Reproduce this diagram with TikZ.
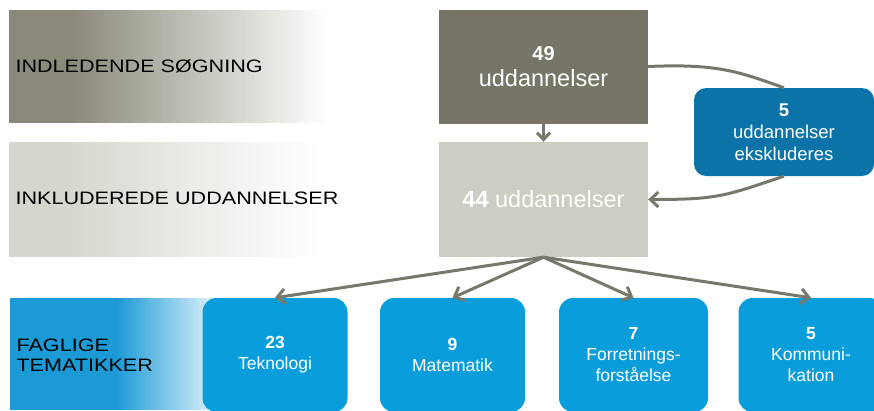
\documentclass[tikz,border=0pt]{standalone}
\usepackage{fontspec}
\setmainfont{Liberation Sans}
\newfontfamily\bandfont{Liberation Sans}[FakeStretch=1.2]
\usetikzlibrary{arrows.meta, positioning}
\definecolor{G0}{RGB}{119,118,102}
\definecolor{G1}{RGB}{138,137,122}
\definecolor{G2}{RGB}{205,205,195}
\definecolor{G3}{RGB}{214,214,206}
\definecolor{B0}{RGB}{ 11,115,168}
\definecolor{B1}{RGB}{ 10,157,219}
\definecolor{B2}{RGB}{ 28,154,214}
\definecolor{B3}{RGB}{205,234,247}
\definecolor{Arr}{RGB}{120,119,107}

\begin{document}
\begin{tikzpicture}[x=1pt, y=-1pt,
    rowlabel/.style={anchor=west, align=left, font=\bandfont\fontsize{18}{20}\selectfont, text=black},
    sumbox/.style={rectangle, minimum width=209pt, minimum height=114pt, align=center, text=white, inner sep=0pt},
    themebox/.style={rectangle, rounded corners=14pt, fill=B1, minimum width=145pt, minimum height=114pt,
        align=center, text=white, inner sep=0pt, font=\fontsize{17.5}{21}\selectfont},
    flow/.style={draw=Arr, line width=3pt, -{Straight Barb[length=8pt, width=15pt]}}]

    \useasboundingbox (0,0) rectangle (874,410);

    %% --- background bands, faded in thin strips ---
    \fill[G1] (9,10) rectangle (71,123);
    \foreach \i [evaluate=\i as \p using {100-1.5625*\i}] in {0,...,64}
        \fill[G1!\p!white] ({70+4*\i},10) rectangle ({74.6+4*\i},123);
    \fill[G3] (9,142) rectangle (61,257);
    \foreach \i [evaluate=\i as \p using {100-1.5625*\i}] in {0,...,64}
        \fill[G3!\p!white] ({60+4*\i},142) rectangle ({64.6+4*\i},257);
    \fill[B2] (10,298) rectangle (116,410);
    \foreach \i [evaluate=\i as \p using {100-3.333*\i}] in {0,...,30}
        \fill[B2!\p!B3] ({115+3*\i},298) rectangle ({118.6+3*\i},410);
    \fill[B3] (205,298) rectangle (222,410);

    %% --- row labels ---
    \node[rowlabel] (lSearch) at (12,66) {INDLEDENDE SØGNING};
    \node[rowlabel] (lIncl) at (12,198) {INKLUDEREDE UDDANNELSER};
    \node[rowlabel] (lTheme) at (13,355) {FAGLIGE\\TEMATIKKER};

    %% --- totals ---
    \node[sumbox, fill=G0, font=\fontsize{23.5}{26}\selectfont] (b49) at (543.5,66.5)
        {{\fontsize{20}{26}\selectfont\textbf{49}}\\uddannelser};
    \node[sumbox, fill=G2, minimum height=115pt, font=\fontsize{23.5}{26}\selectfont] (b44) at (543.5,199.5)
        {\textbf{44} uddannelser};

    %% --- excluded ---
    \node[rectangle, rounded corners=12pt, fill=B0, minimum width=180pt, minimum height=88pt,
        align=center, text=white, inner sep=0pt, font=\fontsize{18.5}{22}\selectfont] (excl) at (784,132)
        {\textbf{5}\\uddannelser\\ekskluderes};

    %% --- themes ---
    \node[themebox] (t23) at (275,355) {\textbf{23}\\Teknologi};
    \node[themebox] (m9) at (452.5,355) {\textbf{9}\\Matematik};
    \node[themebox, minimum width=149pt] (f7) at (633.5,355) {\textbf{7}\\Forretnings-\\forståelse};
    \node[themebox] (k5) at (811,355) {\textbf{5}\\Kommuni-\\kation};

    %% --- connectors ---
    \draw[flow, -] (b49.east) .. controls +(70,-3) and +(-45,-16) .. (excl.north);
    \draw[flow] (excl.south) .. controls +(-60,20) and +(70,0) .. (b44.east);
    \draw[flow, -{Straight Barb[length=7pt, width=13pt]}] (b49.south) -- (b44.north);
    \draw[flow] (b44.south) -- (t23.north);
    \draw[flow] (b44.south) -- (m9.north);
    \draw[flow] (b44.south) -- (f7.north);
    \draw[flow] (b44.south) -- (k5.north);

\end{tikzpicture}
\end{document}
